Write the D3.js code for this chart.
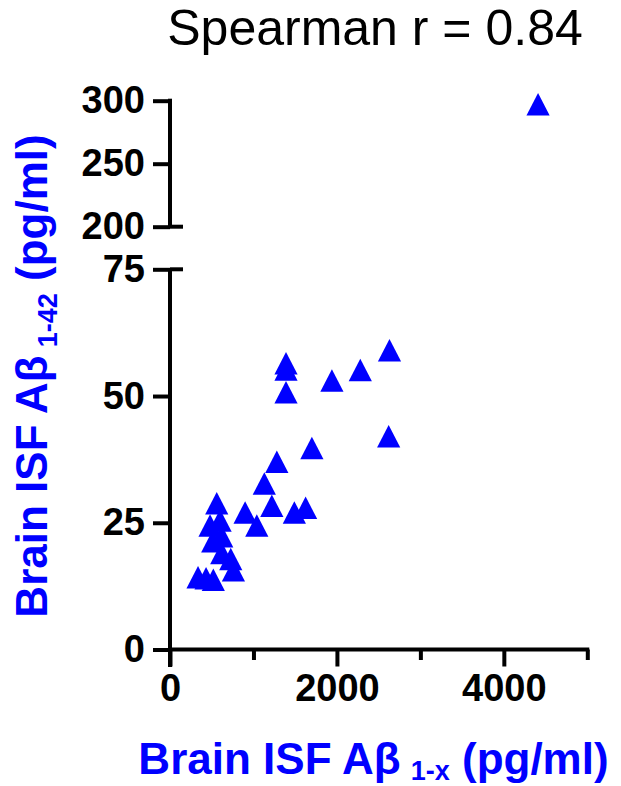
<!DOCTYPE html>
<html>
<head>
<meta charset="utf-8">
<script src="https://cdn.jsdelivr.net/npm/d3@7"></script>
<style>
  html, body { margin: 0; padding: 0; background: #fff; }
  svg { display: block; }
  .axis path, .axis line { stroke: #000; stroke-width: 4; }
  .axis text { font-family: "Liberation Sans", Arial, sans-serif; font-weight: bold; font-size: 38px; fill: #000; }
</style>
</head>
<body>
<svg id="chart" width="621" height="786"></svg>
<script>
// Brain ISF Aβ1-x vs Aβ1-42 (pg/ml), one point per animal
const abetaX  = [2630, 2280, 1940, 1390, 1390, 1390, 2620, 1700, 1280, 1130, 1220, 900, 1040, 1490, 1625,
                 560, 600, 480, 620, 512, 620, 728, 760, 336, 432, 519, 4410];
const abeta42 = [59.0, 55.1, 53.0, 56.4, 55.2, 50.7, 42.0, 39.7, 37.0, 32.7, 28.3, 27.0, 24.4, 27.0, 27.9,
                 28.8, 25.4, 24.4, 22.3, 21.3, 19.0, 17.8, 15.6, 14.2, 14.0, 13.7, 297];

const xMajorTicks = [0, 2000, 4000];
const xMinorTicks = [1000, 3000, 5000];
const yLowTicks = [0, 25, 50, 75];
const yHighTicks = [200, 250, 300];
const titleText = "Spearman r = 0.84";

const svg = d3.select("#chart");
const blue = "#0000ff";
const font = '"Liberation Sans", Arial, sans-serif';

// scales: x linear, y split into a lower (0–75) and upper (200–300) segment
const x = d3.scaleLinear().domain([0, 5000]).range([170, 587.3]);
const yLow = d3.scaleLinear().domain([0, 75]).range([649.5, 269.3]);
const yHigh = d3.scaleLinear().domain([200, 300]).range([226.7, 100.7]);

const pts = abetaX.map((v, i) => ({ x: v, y: abeta42[i] }));
const yPos = d => d.y >= 200 ? yHigh(d.y) : yLow(d.y);

// y axis, lower segment
const gyLow = svg.append("g").attr("class", "axis")
  .attr("transform", `translate(${x(0)},0)`)
  .call(d3.axisLeft(yLow).tickValues(yLowTicks).tickSize(17).tickSizeOuter(0).tickPadding(8));
gyLow.select(".domain").remove();
gyLow.append("line").attr("x1", 0).attr("x2", 0).attr("y1", yLow(75)).attr("y2", yLow(0) + 17.5);

// y axis, upper segment
const gyHigh = svg.append("g").attr("class", "axis")
  .attr("transform", `translate(${x(0)},0)`)
  .call(d3.axisLeft(yHigh).tickValues(yHighTicks).tickSize(17).tickSizeOuter(0).tickPadding(8));
gyHigh.select(".domain").remove();
gyHigh.append("line").attr("x1", 0).attr("x2", 0).attr("y1", yHigh(300) - 2).attr("y2", yHigh(200));

// break caps on either side of the gap
[yHigh(200), yLow(75)].forEach(yy => {
  svg.append("line").attr("x1", x(0)).attr("x2", x(0) + 13).attr("y1", yy).attr("y2", yy)
    .attr("stroke", "#000").attr("stroke-width", 4);
});

// x axis
const gx = svg.append("g").attr("class", "axis")
  .attr("transform", `translate(0,${yLow(0)})`)
  .call(d3.axisBottom(x).tickValues(xMajorTicks).tickSize(17).tickSizeOuter(0).tickPadding(8)
    .tickFormat(d3.format("d")));
gx.select(".domain").attr("d", `M${x(0)},0H${x(5000) + 2}`);
const gxMinor = svg.append("g").attr("class", "axis")
  .attr("transform", `translate(0,${yLow(0)})`)
  .call(d3.axisBottom(x).tickValues(xMinorTicks).tickSize(10.5).tickSizeOuter(0).tickFormat(""));
gxMinor.select(".domain").remove();

// triangle markers
const tri = "M0,-11.5L11.6,11L-11.6,11Z";
svg.append("g").selectAll("path").data(pts).join("path")
  .attr("d", tri)
  .attr("transform", d => `translate(${x(d.x)},${yPos(d)})`)
  .attr("fill", blue);

// title
svg.append("text").attr("x", 375).attr("y", 45).attr("text-anchor", "middle")
  .attr("font-family", font).attr("font-size", 50).attr("fill", "#000")
  .text(titleText);

// x axis title
const xt = svg.append("text").attr("x", 373.5).attr("y", 774).attr("text-anchor", "middle")
  .attr("font-family", font).attr("font-weight", "bold").attr("font-size", 44).attr("fill", blue);
xt.append("tspan").text("Brain ISF Aβ");
xt.append("tspan").attr("dx", 10).attr("dy", 6).attr("font-size", 27).text("1-x");
xt.append("tspan").attr("dy", -6).text(" (pg/ml)");

// y axis title
const yt = svg.append("text").attr("transform", "translate(47,376) rotate(-90)").attr("text-anchor", "middle")
  .attr("font-family", font).attr("font-weight", "bold").attr("font-size", 44).attr("fill", blue);
yt.append("tspan").text("Brain ISF Aβ");
yt.append("tspan").attr("dx", 8).attr("dy", 10).attr("font-size", 27).text("1-42");
yt.append("tspan").attr("dy", -10).text(" (pg/ml)");
</script>
</body>
</html>
